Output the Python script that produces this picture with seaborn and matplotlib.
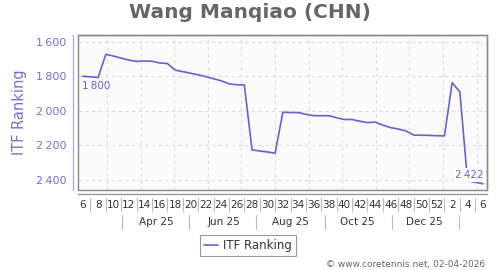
import numpy as np
import pandas as pd
import matplotlib
matplotlib.use("Agg")
import matplotlib.pyplot as plt
import matplotlib.dates as mdates
import seaborn as sns
from matplotlib.transforms import blended_transform_factory
from matplotlib.patches import Rectangle

# ---- data ----
start_date = "2025-02-07"
ranks = [1800, 1803, 1807, 1673, 1683, 1695, 1706, 1714, 1711, 1713, 1723, 1726, 1764,
         1773, 1782, 1792, 1802, 1814, 1826, 1843, 1849, 1850,
         2226, 2232, 2238, 2245,
         2008, 2010, 2010, 2020, 2028, 2028, 2028, 2040, 2050, 2050, 2060, 2068, 2065,
         2083, 2097, 2105, 2116, 2140, 2141, 2142, 2144, 2145,
         1837, 1890, 2405, 2413, 2422]
week_labels = ["6", "8", "10", "12", "14", "16", "18", "20", "22", "24", "26", "28", "30",
               "32", "34", "36", "38", "40", "42", "44", "46", "48", "50", "52", "2", "4", "6"]
month_labels = ["Apr 25", "Jun 25", "Aug 25", "Oct 25", "Dec 25"]
month_label_dates = ["2025-04-15", "2025-06-15", "2025-08-15", "2025-10-15", "2025-12-15"]
month_sep_dates = ["2025-03-15", "2025-05-15", "2025-07-15", "2025-09-15", "2025-11-15", "2026-01-15"]
y_ticks = [1600, 1800, 2000, 2200, 2400]
series_name = "ITF Ranking"

dates = pd.date_range(start_date, periods=len(ranks), freq="7D")
df = pd.DataFrame({"date": dates, "rank": ranks})

LINE = "#6464cc"
LABEL = "#7070d0"
AXIS = "#b0b0e0"

sns.set_theme(style="white")
plt.rcParams["font.family"] = ["DejaVu Sans"]

fig = plt.figure(figsize=(5, 2.7), dpi=100)
ax = fig.add_axes([78 / 500, 80 / 270, 409 / 500, 155 / 270])
ax.set_facecolor("#fafafa")

sns.lineplot(data=df, x="date", y="rank", ax=ax, color=LINE, linewidth=1.2,
             label=series_name)

# limits
x0 = dates[0] - pd.Timedelta(days=4.3)
x1 = dates[0] + pd.Timedelta(days=367.7)
ax.set_xlim(x0, x1)
ax.set_ylim(2458, 1561)

# y axis
ax.set_yticks(y_ticks)
ax.set_yticklabels([f"{v:,}".replace(",", "\u2009") for v in y_ticks])
ax.tick_params(axis="y", length=0, pad=4.5, labelsize=8, labelcolor=LABEL)
ax.set_ylabel(series_name, color=LABEL, fontsize=10.5)
ax.yaxis.set_label_coords(-0.125, 0.5)

# x axis
ax.set_xticks(dates[::2])
ax.set_xticklabels(week_labels)
ax.xaxis.set_minor_locator(mdates.MonthLocator())
ax.tick_params(axis="x", which="major", length=0, pad=4, labelsize=7.5, labelcolor="#333333")
ax.tick_params(axis="x", which="minor", length=2.5, width=0.8, color="#cccccc", direction="out")
ax.set_xlabel("")

# grid
ax.grid(False)
ax.grid(which="minor", axis="x", color="#dddddd", linestyle=(0, (3, 3)), linewidth=0.8)
ax.grid(which="major", axis="y", color="#dddddd", linestyle=(0, (3, 3)), linewidth=0.8)

# spines
for s in ["top", "right"]:
    ax.spines[s].set_color("#999999")
    ax.spines[s].set_linewidth(1)
ax.spines["left"].set_position(("outward", 3.6))
ax.spines["left"].set_color(AXIS)
ax.spines["left"].set_linewidth(1)
ax.spines["bottom"].set_position(("outward", 3))
ax.spines["bottom"].set_color("#999999")
ax.spines["bottom"].set_linewidth(1)
ax.add_patch(Rectangle((0, 0), 1, 1, transform=ax.transAxes, fill=False,
                       edgecolor="#888888", linewidth=1, clip_on=False, zorder=5))

# week separators and month row
tr = blended_transform_factory(ax.transData, ax.transAxes)
for d in dates[1::2]:
    ax.plot([d, d], [-0.05, -0.135], transform=tr, color="#bbbbbb", lw=0.8, clip_on=False)
for d in month_sep_dates:
    d = pd.Timestamp(d)
    ax.plot([d, d], [-0.16, -0.25], transform=tr, color="#bbbbbb", lw=0.8, clip_on=False)
for d, lab in zip(month_label_dates, month_labels):
    ax.text(pd.Timestamp(d), -0.205, lab, transform=tr, ha="center", va="center",
            fontsize=7.5, color="#333333")

# annotations
ax.annotate(f"{ranks[0]:,}".replace(",", "\u2009"), (dates[0], ranks[0]),
            xytext=(-0.6, -7), textcoords="offset points", ha="left", va="center",
            fontsize=7.5, color=LINE)
ax.annotate(f"{ranks[-1]:,}".replace(",", "\u2009"), (dates[-1], ranks[-1]),
            xytext=(0.8, 6.3), textcoords="offset points", ha="right", va="center",
            fontsize=7.5, color=LINE,
            bbox=dict(boxstyle="square,pad=0.15", facecolor="white", edgecolor="none"))

# legend
ax.legend(loc="center", bbox_to_anchor=(248 / 500, 1 - 245.8 / 270),
          bbox_transform=fig.transFigure, frameon=True, fancybox=False,
          edgecolor="#999999", fontsize=8.5, handlelength=1.2, handletextpad=0.4,
          borderpad=0.35, framealpha=1)
leg = ax.get_legend()
leg.get_frame().set_linewidth(0.8)
for t in leg.get_texts():
    t.set_color("#333333")

# title and credit
fig.text(0.5, 1 - 13 / 270, "Wang Manqiao (CHN)", ha="center", va="center",
         fontsize=14.5, fontweight="bold", color="#666666")
fig.text(485 / 500, 1 - 264 / 270, "\u00a9 www.coretennis.net, 02-04-2026", ha="right",
         va="center", fontsize=6.5, color="#666666")

fig.savefig("out.png", dpi=100)
